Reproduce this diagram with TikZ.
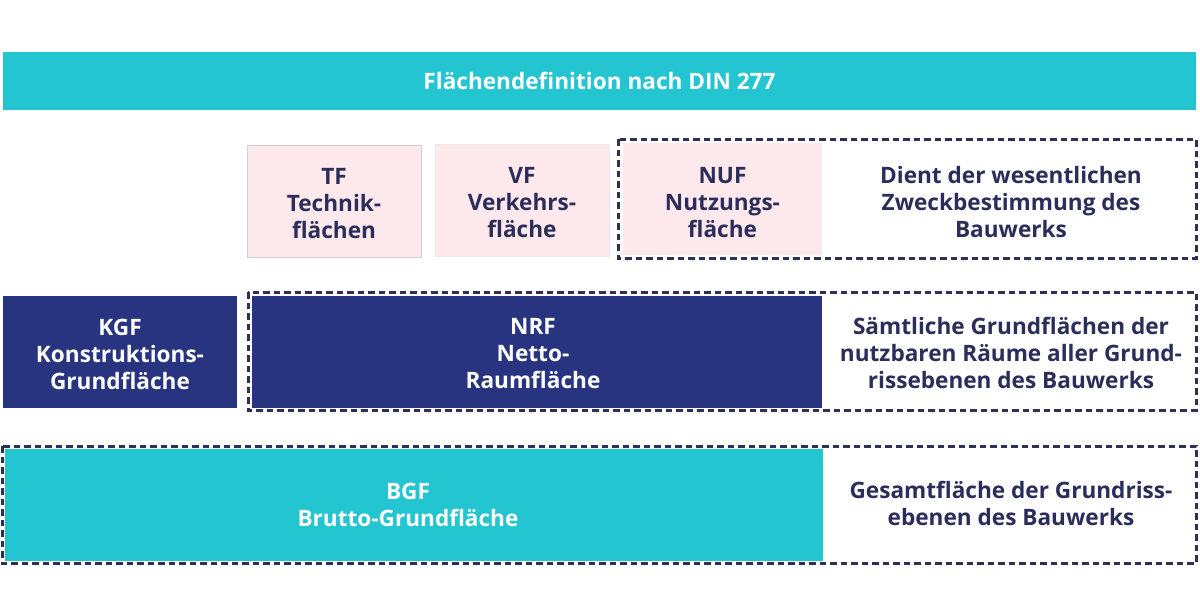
\documentclass[tikz,border=0pt]{standalone}
\usepackage{fontspec}
\setmainfont{Open Sans}[BoldFont={* Bold}]
\definecolor{teal1}{HTML}{22C5D0}
\definecolor{navy}{HTML}{283480}
\definecolor{txt}{HTML}{2B2D5B}
\definecolor{pinkf}{HTML}{FDE8EC}
\definecolor{dashc}{HTML}{2E3058}
\tikzset{
  base/.style={rectangle, inner sep=0pt, align=center, font=\fontsize{22.6}{27}\selectfont\bfseries},
  titlebox/.style={base, fill=teal1, text=white},
  pinkbox/.style={base, fill=pinkf, text=txt},
  pinkedge/.style={draw=black!18, line width=0.8pt},
  navybox/.style={base, fill=navy, text=white},
  tealbox/.style={base, fill=teal1, text=white},
  lbl/.style={base},
  desc/.style={base, text=txt},
  dashbox/.style={draw=dashc, line width=3pt, dash pattern=on 6.5pt off 4pt},
}
\begin{document}
\begin{tikzpicture}[x=1pt,y=-1pt]
\useasboundingbox (0,0) rectangle (1200,611);
\fill[white] (0,0) rectangle (1200,611);
% title
\node[titlebox, minimum width=1193pt, minimum height=58pt] (title) at (599.5,81) {Flächendefinition nach DIN 277};
% row 1
\node[pinkbox, pinkedge, minimum width=174pt, minimum height=112pt] (tf) at (334,201) {};
\node[lbl, text=txt] (tft) at ([yshift=-3pt]tf.center) {TF\\Technik-\\flächen};
\node[pinkbox, pinkedge, draw=black!8, minimum width=174pt, minimum height=112pt] (vf) at (522,200) {};
\node[lbl, text=txt] (vft) at ([yshift=-3pt]vf.center) {VF\\Verkehrs-\\fläche};
\node[pinkbox, minimum width=199pt, minimum height=112pt] (nuf) at (722.5,199) {};
\node[lbl, text=txt] (nuft) at ([yshift=-4pt]nuf.center) {NUF\\Nutzungs-\\fläche};
\node[desc] (nufd) at (1011,202) {Dient der wesentlichen\\Zweckbestimmung des\\Bauwerks};
\coordinate (nufa) at (618,139);
\coordinate (nufb) at (1196,258);
\draw[dashbox] (nufa) rectangle (nufb);
% row 2
\node[navybox, minimum width=234pt, minimum height=112pt] (kgf) at (120,352) {};
\node[lbl, text=white] (kgft) at ([yshift=-2pt]kgf.center) {KGF\\Konstruktions-\\Grundfläche};
\node[navybox, minimum width=570pt, minimum height=112pt] (nrf) at (537,352) {};
\node[lbl, text=white] (nrft) at ([xshift=-4pt,yshift=-2pt]nrf.center) {NRF\\Netto-\\Raumfläche};
\node[desc] (nrfd) at (1011,353) {Sämtliche Grundflächen der\\nutzbaren Räume aller Grund-\\rissebenen des Bauwerks};
\coordinate (nrfa) at (248,292);
\coordinate (nrfb) at (1196,410);
\draw[dashbox] (nrfa) rectangle (nrfb);
% row 3
\node[tealbox, minimum width=818pt, minimum height=112pt] (bgf) at (414,505) {};
\node[lbl, text=white] (bgft) at ([xshift=-6pt]bgf.center) {BGF\\Brutto-Grundfläche};
\node[desc] (bgfd) at (1011,503) {Gesamtfläche der Grundriss-\\ebenen des Bauwerks};
\coordinate (bgfa) at (2,446);
\coordinate (bgfb) at (1196,563);
\draw[dashbox] (bgfa) rectangle (bgfb);
\end{tikzpicture}
\end{document}
